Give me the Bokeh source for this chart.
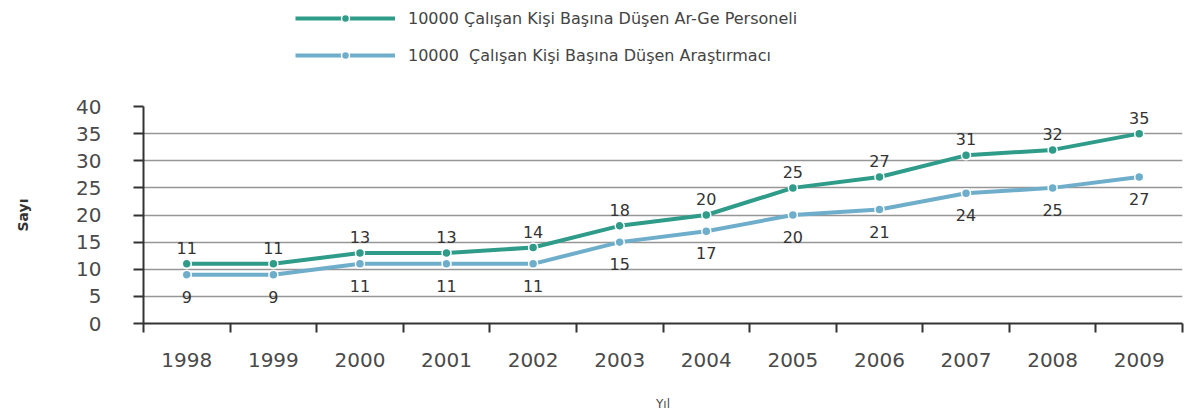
from bokeh.plotting import figure
from bokeh.layouts import column
from bokeh.models import (Range1d, FixedTicker, Legend, LegendItem, ColumnDataSource,
                          LabelSet)
from bokeh.core.properties import value
from bokeh.embed import file_html
from bokeh.resources import INLINE

# Data
years = ["1998", "1999", "2000", "2001", "2002", "2003", "2004", "2005",
         "2006", "2007", "2008", "2009"]
personel = [11, 11, 13, 13, 14, 18, 20, 25, 27, 31, 32, 35]
arastirmaci = [9, 9, 11, 11, 11, 15, 17, 20, 21, 24, 25, 27]
y_ticks = [0, 5, 10, 15, 20, 25, 30, 35, 40]
series_names = ["10000 Çalışan Kişi Başına Düşen Ar-Ge Personeli",
                "10000  Çalışan Kişi Başına Düşen Araştırmacı"]

FONT = "DejaVu Sans"
C1 = "#2f9b89"
C2 = "#6eaecb"
TXT = "#4a4a4a"
LEG_H = 80

xs = list(range(len(years)))
src = ColumnDataSource(dict(x=xs, p=personel, a=arastirmaci,
                            pl=[str(v) for v in personel],
                            al=[str(v) for v in arastirmaci]))

# ---- main chart ----
p = figure(width=1194, height=418 - LEG_H, output_backend="svg",
           toolbar_location=None,
           x_range=Range1d(-0.5, len(years) - 0.5), y_range=Range1d(0, 40),
           min_border_left=143, min_border_right=12, min_border_top=106 - LEG_H,
           min_border_bottom=95)
p.outline_line_color = None
p.background_fill_color = "white"

xa = p.xaxis[0]
xa.ticker = FixedTicker(ticks=xs, minor_ticks=[i - 0.5 for i in range(len(years) + 1)])
xa.major_label_overrides = {i: y for i, y in enumerate(years)}
xa.major_tick_out = 0
xa.major_tick_in = 0
xa.minor_tick_out = 9
xa.minor_tick_in = 0
xa.minor_tick_line_color = "#333333"
xa.minor_tick_line_width = 2
xa.axis_line_color = "#333333"
xa.axis_line_width = 2
xa.major_label_text_font = FONT
xa.major_label_text_font_size = "20px"
xa.major_label_text_color = TXT
xa.major_label_standoff = 20
xa.axis_label = "Yıl"
xa.axis_label_text_font = FONT
xa.axis_label_text_font_size = "12px"
xa.axis_label_text_font_style = "normal"
xa.axis_label_text_color = TXT
xa.axis_label_standoff = 27

ya = p.yaxis[0]
ya.ticker = FixedTicker(ticks=y_ticks)
ya.minor_tick_line_color = None
ya.major_tick_out = 10
ya.major_tick_in = 0
ya.major_tick_line_color = "#333333"
ya.major_tick_line_width = 2
ya.axis_line_color = "#333333"
ya.axis_line_width = 2
ya.major_label_text_font = FONT
ya.major_label_text_font_size = "20px"
ya.major_label_text_color = TXT
ya.major_label_standoff = 32
ya.axis_label = "Sayı"
ya.axis_label_text_font = FONT
ya.axis_label_text_font_size = "14px"
ya.axis_label_text_font_style = "bold"
ya.axis_label_text_color = "#333333"
ya.axis_label_standoff = 42

p.xgrid.grid_line_color = None
p.ygrid.grid_line_color = "#969696"
p.ygrid.grid_line_width = 1.3

p.line("x", "p", source=src, line_color=C1, line_width=4)
p.scatter("x", "p", source=src, size=9, fill_color=C1, line_color="white",
          line_width=1.5)
p.line("x", "a", source=src, line_color=C2, line_width=4)
p.scatter("x", "a", source=src, size=9, fill_color=C2, line_color="white",
          line_width=1.5)

# Value labels: first series above the points, second below
lab1 = LabelSet(x="x", y="p", text="pl", source=src, text_align="center",
                text_baseline="middle", y_offset=16, text_font=value(FONT),
                text_font_size="16px", text_color="#333333")
lab2 = LabelSet(x="x", y="a", text="al", source=src, text_align="center",
                text_baseline="middle", y_offset=-22, text_font=value(FONT),
                text_font_size="16px", text_color="#333333")
p.add_layout(lab1)
p.add_layout(lab2)

# ---- legend strip above the chart (its frame lines up with the chart's) ----
lg = figure(width=1194, height=LEG_H, output_backend="svg", toolbar_location=None,
            x_range=Range1d(0, 1), y_range=Range1d(0, 1),
            x_axis_type=None, y_axis_type=None,
            min_border_left=143, min_border_right=12, min_border_top=0,
            min_border_bottom=0)
lg.outline_line_color = None
lg.xgrid.grid_line_color = None
lg.ygrid.grid_line_color = None
# swatch renderers sit outside the visible range; only their legend glyphs show
g1 = lg.line(x=[-5, -4], y=[-5, -5], line_color=C1, line_width=4)
s1 = lg.scatter(x=[-5], y=[-5], size=9, fill_color=C1, line_color="white", line_width=1.5)
g2 = lg.line(x=[-5, -4], y=[-5, -5], line_color=C2, line_width=4)
s2 = lg.scatter(x=[-5], y=[-5], size=9, fill_color=C2, line_color="white", line_width=1.5)

legend = Legend(items=[LegendItem(label=series_names[0], renderers=[g1, s1]),
                       LegendItem(label=series_names[1], renderers=[g2, s2])],
                location=(152, 15), orientation="vertical",
                glyph_width=100, glyph_height=20, label_standoff=13,
                spacing=17, padding=0, margin=0,
                border_line_color=None, background_fill_alpha=0,
                label_text_font=FONT, label_text_font_size="16px",
                label_text_color="#444444")
lg.add_layout(legend)

layout = column(lg, p, spacing=0)
open("out.html", "w").write(file_html(layout, INLINE))
